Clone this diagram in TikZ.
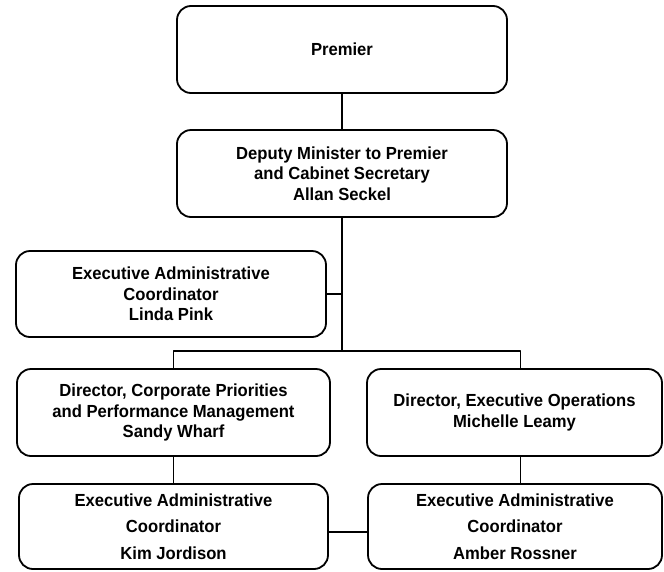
\documentclass[tikz,border=0pt]{standalone}
\usepackage{fontspec}
\setmainfont[FakeStretch=0.95]{Liberation Sans}
\begin{document}
\begin{tikzpicture}[x=1pt, y=-1pt, line cap=round, line join=round,
  box/.style={draw, line width=1.8pt, rounded corners=14pt, align=center,
    inner sep=0pt, font=\bfseries\fontsize{17.5}{20.5}\selectfont},
  loosebox/.style={box, font=\bfseries\fontsize{17.5}{26.5}\selectfont},
  link/.style={line width=1.8pt}]

\useasboundingbox (0,0) rectangle (664,571);

% vertice
\node[box, minimum width=330pt, minimum height=87pt] (premier) at (342,49.5) {Premier};
\node[box, minimum width=330pt, minimum height=87pt] (deputy) at (342,173.5)
  {Deputy Minister to Premier\\and Cabinet Secretary\\Allan Seckel};

% segreteria
\node[box, minimum width=310pt, minimum height=86pt] (linda) at (171,294)
  {Executive Administrative\\Coordinator\\Linda Pink};

% direttori
\node[box, minimum width=313pt, minimum height=87pt] (dirL) at (173.5,412.5)
  {Director, Corporate Priorities\\and Performance Management\\Sandy Wharf};
\node[box, minimum width=295pt, minimum height=87pt] (dirR) at (514.5,412.5)
  {Director, Executive Operations\\Michelle Leamy};

% coordinatori
\node[loosebox, minimum width=309pt, minimum height=85pt] (kim) at (173.5,526.5)
  {Executive Administrative\\Coordinator\\Kim Jordison};
\node[loosebox, minimum width=294pt, minimum height=85pt] (amber) at (515,526.5)
  {Executive Administrative\\Coordinator\\Amber Rossner};

% collegamenti
\coordinate (bus) at (342,351);
\draw[link] (premier) -- (deputy);
\draw[link] (deputy) -- (bus);
\draw[link] (linda.east) -- (linda.east -| bus);
\draw[link] (dirL.north) |- (bus) -| ([xshift=6pt]dirR.north);
\draw[link] (dirL) -- (kim);
\draw[link] ([xshift=6pt]dirR.south) -- ([xshift=6pt]dirR.south |- amber.north);
\draw[link] ([yshift=-5.5pt]kim.east) -- ([yshift=-5.5pt]amber.west);

\end{tikzpicture}
\end{document}
